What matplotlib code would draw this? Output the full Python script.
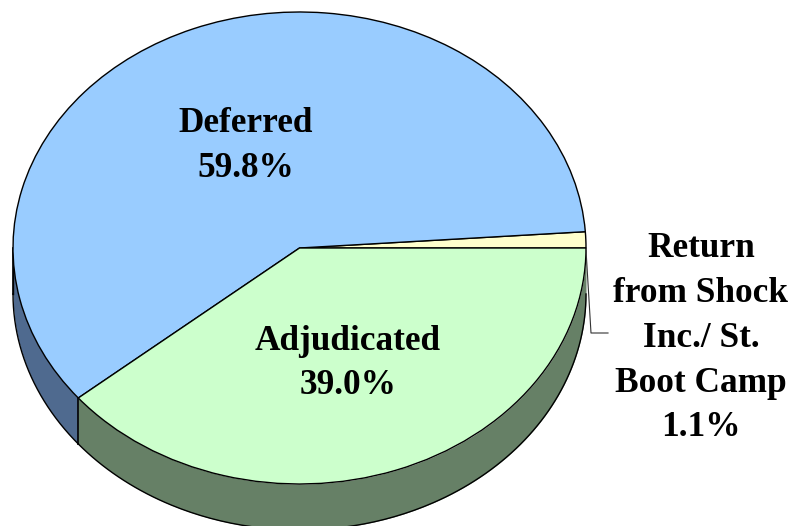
import numpy as np
from matplotlib import pyplot as plt

names = ["Return\nfrom Shock\nInc./ St.\nBoot Camp", "Deferred", "Adjudicated"]
values = [1.1, 59.8, 39.0]
top_colors = ["#ffffcc", "#99ccff", "#ccffcc"]
side_colors = ["#6b6b52", "#4f6a8f", "#668066"]

W, H = 792, 526
cx, cy = 299.5, 248.0
rx, ry = 286.5, 236.0
depth = 46.0 / ry

def to_data(px, py):
    return (px - cx) / rx, (cy - py) / ry

fig = plt.figure(figsize=(W / 100, H / 100), dpi=100)
ax = fig.add_axes([0, 0, 1, 1])

# side wall first, only the front half shows
edges = np.cumsum([0] + values) / sum(values) * 360
for i in range(len(values)):
    start = max(edges[i], 180)
    end = edges[i + 1]
    if end <= start:
        continue
    t = np.radians(np.linspace(start, end, 200))
    ax.fill_between(np.cos(t), np.sin(t), np.sin(t) - depth, color=side_colors[i], lw=0, zorder=1)
    ax.plot(np.cos(t), np.sin(t) - depth, color="black", lw=1, zorder=2)
    ax.plot([np.cos(t[0])] * 2, [np.sin(t[0]), np.sin(t[0]) - depth], color="black", lw=1.2, zorder=2)
ax.plot([-1, -1], [0, -depth], color="black", lw=1, zorder=2)

wedges, _ = ax.pie(values, colors=top_colors, startangle=0, counterclock=True, radius=1,
                   wedgeprops={"edgecolor": "black", "linewidth": 1, "zorder": 3})
ax.set_aspect("auto")
ax.set_xlim(-cx / rx, (W - cx) / rx)
ax.set_ylim((cy - H) / ry, cy / ry)
ax.axis("off")

font = {"family": "Liberation Serif", "weight": "bold", "size": 25.4, "color": "black",
        "ha": "center", "va": "center", "linespacing": 1.47, "zorder": 5}
for i, pos in enumerate([(701, 338.5), (246, 146), (348, 363.5)]):
    x, y = to_data(*pos)
    ax.text(x, y, "{}\n{:.1f}%".format(names[i], values[i]), **font)

# leader line for the small slice
lx, ly = zip(*[to_data(586, 250), to_data(591, 333), to_data(608, 333)])
ax.plot(lx, ly, color="#333333", lw=0.8, zorder=4)

fig.savefig("out.png", dpi=100)
